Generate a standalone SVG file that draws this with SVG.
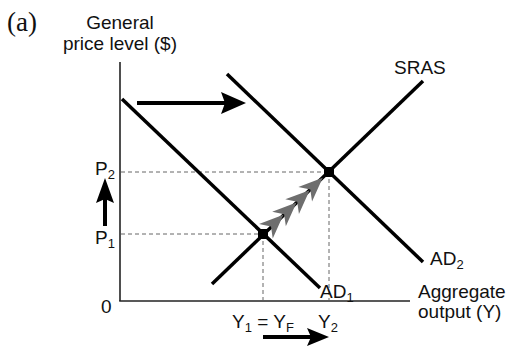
<svg xmlns="http://www.w3.org/2000/svg" width="517" height="346" viewBox="0 0 517 346">
<style>
text{font-family:"Liberation Sans","DejaVu Sans",sans-serif;font-size:19px;fill:#111}
.sub{font-size:13px}
.curve{stroke:#000;stroke-width:3.5;fill:none;stroke-linecap:butt}
.axis{stroke:#222;stroke-width:1.6;fill:none}
.dash{stroke:#666;stroke-width:1;stroke-dasharray:4 3;fill:none}
.shaft{stroke:#000;stroke-width:4;fill:none}
.head{fill:#000}
.pt{fill:#000}
.gray{fill:#6e6e6e}
</style>
<defs>
<path id="gh" d="M0,0 L-24,-10 L-17,0 L-24,10 Z"/>
</defs>
<text x="7" y="31" style="font-family:'Liberation Serif',serif;font-size:27px">(a)</text>
<g id="ylabel"><text x="120" y="29" text-anchor="middle">General</text><text x="120" y="50" text-anchor="middle">price level ($)</text></g>
<g id="axes">
<line class="axis" x1="120" y1="62" x2="120" y2="301"/>
<line class="axis" x1="119.2" y1="301" x2="410" y2="301"/>
<text x="101" y="313">0</text>
<text x="418" y="298">Aggregate</text>
<text x="418" y="318">output (Y)</text>
</g>
<g id="guides">
<line class="dash" x1="121" y1="172" x2="329" y2="172"/>
<line class="dash" x1="121" y1="234" x2="263" y2="234"/>
<line class="dash" x1="263" y1="234" x2="263" y2="300"/>
<line class="dash" x1="329" y1="172" x2="329" y2="300"/>
</g>
<g id="AD1"><line class="curve" x1="122" y1="99" x2="320" y2="288"/><text x="320" y="298">AD<tspan class="sub" dy="4">1</tspan></text></g>
<g id="AD2"><line class="curve" x1="227" y1="74" x2="423" y2="262"/><text x="430" y="265">AD<tspan class="sub" dy="4">2</tspan></text></g>
<g id="SRAS"><line class="curve" x1="212" y1="284" x2="423" y2="81"/><text x="394" y="74">SRAS</text></g>
<g id="E1"><rect class="pt" x="258" y="229" width="10" height="10"/></g>
<g id="E2"><rect class="pt" x="324" y="167" width="10" height="10"/></g>
<g id="connectors">
<g id="move">
<use href="#gh" class="gray" transform="translate(283.4,214.8) rotate(-43.2)"/>
<use href="#gh" class="gray" transform="translate(296.5,202.5) rotate(-43.2)"/>
<use href="#gh" class="gray" transform="translate(309.6,190.2) rotate(-43.2)"/>
<use href="#gh" class="gray" transform="translate(322.7,177.8) rotate(-43.2)"/>
</g>
<g id="arrowTop"><line class="shaft" x1="137" y1="103" x2="225" y2="103"/><path class="head" d="M221,92 L246,103 L221,114 L225,103 Z"/></g>
<g id="arrowP"><line class="shaft" x1="105" y1="226" x2="105" y2="198"/><path class="head" d="M96,203 L105,178 L114,203 L105,199 Z"/></g>
<g id="arrowY"><line class="shaft" x1="263" y1="337" x2="311" y2="337"/><path class="head" d="M307,328 L329,337 L307,346 L311,337 Z"/></g>
</g>
<g id="plabels">
<text x="95" y="175">P<tspan class="sub" dy="4">2</tspan></text>
<text x="95" y="244">P<tspan class="sub" dy="4">1</tspan></text>
</g>
<g id="ylabels">
<text x="232" y="328">Y<tspan class="sub" dy="4">1</tspan><tspan dy="-4"> = Y</tspan><tspan class="sub" dy="4">F</tspan></text>
<text x="318" y="328">Y<tspan class="sub" dy="4">2</tspan></text>
</g>
</svg>
